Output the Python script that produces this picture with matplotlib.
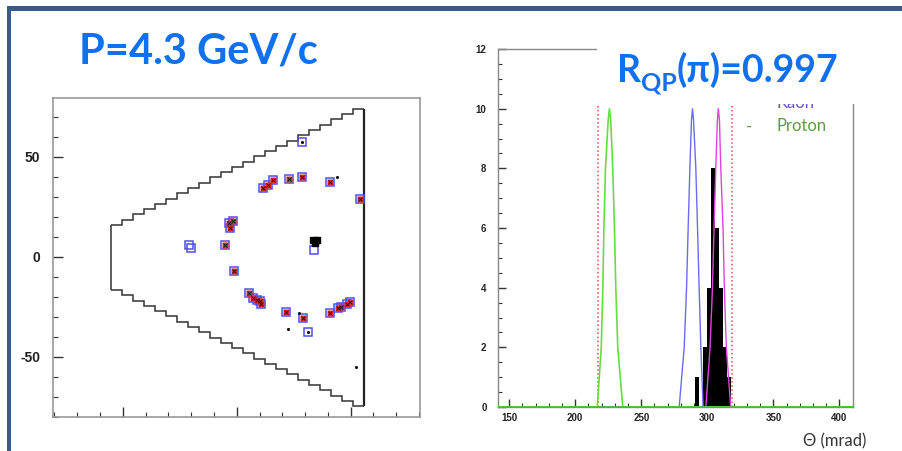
import numpy as np
import matplotlib.pyplot as plt
from matplotlib.patches import Rectangle
from matplotlib.ticker import MultipleLocator, FixedLocator

# ---- hit map on the detector plane ----
# matched hits (red with blue box)
hit_x = [11.7, 13.7, 16.1, 23.1, 28.5, 40.9, 54.1, -3.2, -1.5, -2.9, -5.0, -1.0,
         5.4, 7.3, 9.0, 10.5, 10.0, 21.8, 28.9, 40.9, 44.6, 45.6, 48.2, 49.7]
hit_y = [34.7, 36.0, 38.3, 39.0, 39.8, 37.7, 29.2, 17.2, 18.2, 14.3, 6.2, -7.0,
         -17.8, -20.3, -21.5, -23.5, -22.0, -27.5, -30.7, -28.2, -25.7, -25.0, -23.7, -22.3]
# expected photons without a hit (blue box only)
photon_x = [28.5, -20.9, -20.0, 33.9, 31.4]
photon_y = [57.3, 6.0, 4.6, 3.5, -37.7]
# noise / single pixels
noise_x = [43.9, 27.5, 22.6, 52.3, 28.5, 31.4]
noise_y = [39.8, -28.2, -36.0, -54.8, 57.3, -37.7]
# track impact
blob_x = [33.4, 35.0, 34.2]
blob_y = [8.4, 8.4, 7.2]

# stepped outline of the sensor plane (upper edge, lower edge is mirrored)
stair_x = [-55.0, -50.2, -45.4, -40.5, -35.7, -30.9, -26.1, -21.3, -16.4, -11.6, -6.8, -2.0,
           2.8, 7.7, 12.5, 17.3, 22.1, 26.9, 31.7, 36.6, 41.4, 46.2, 51.0, 55.8]
stair_y = [16.0, 18.6, 21.3, 23.9, 26.6, 29.2, 31.8, 34.5, 37.1, 39.8, 42.4, 45.0,
           47.7, 50.3, 52.9, 55.6, 58.2, 60.9, 63.5, 66.1, 68.8, 71.4, 74.0]

# ---- Cherenkov angle distribution ----
theta_edges = [290.8, 293.8, 296.8, 299.8, 302.8, 305.8, 308.8, 311.8, 314.8, 317.8]
theta_counts = [1, 0, 2, 4, 8, 6, 4, 2, 1]

peak_y = [0, 0, 2, 4, 6, 8, 9.6, 10, 9.6, 8, 6, 4, 2, 0, 0]
proton_x = [141, 216.7, 219.7, 220.9, 221.7, 222.9, 224.9, 225.9, 226.9, 228.4, 229.7, 230.7, 232.2, 236.0, 410]
kaon_x = [141, 278.7, 282.5, 284.3, 285.5, 286.8, 288.0, 288.8, 289.6, 291.3, 292.6, 293.8, 295.1, 296.8, 410]
pion_x = [141, 298.9, 302.1, 303.9, 305.1, 306.4, 307.6, 308.4, 309.2, 310.2, 311.9, 312.9, 314.4, 317.7, 410]
cut_lo = 217.1
cut_hi = 318.9

W, H = 903, 451
title_blue = '#1170ee'
text_fam = ['Lato', 'DejaVu Sans']

fig = plt.figure(figsize=(W / 100, H / 100), dpi=100)


def fx(px):
    return px / W


def fy(py):
    return 1 - py / H


# slide frame
fig.add_artist(Rectangle((fx(7), fy(10.5)), 1, 4 / H, transform=fig.transFigure,
                         color='#3b5a8c', lw=0, zorder=10))
fig.add_artist(Rectangle((fx(7), 0), 4 / W, fy(6.5), transform=fig.transFigure,
                         color='#3b5a8c', lw=0, zorder=10))

# ---------------- left: hit map ----------------
ax1 = fig.add_axes([fx(53), fy(417), 367 / W, 319 / H])
ax1.set_xlim(-80.6, 80.4)
ax1.set_ylim(-80, 79.5)

ax1.stairs(stair_y, stair_x, baseline=None, color='#333333', lw=1.1)
ax1.stairs([-v - 0.5 for v in stair_y], stair_x, baseline=None, color='#333333', lw=1.1)
ax1.vlines(stair_x[0], -stair_y[0] - 0.5, stair_y[0], color='#333333', lw=1.1)
ax1.vlines(stair_x[-1], -stair_y[-1] - 0.5, stair_y[-1], color='#222222', lw=1.6)

ax1.plot(photon_x, photon_y, 's', ms=6, mfc='none', mec='#5050f0', mew=1.1, ls='none')
ax1.plot(hit_x, hit_y, 's', ms=6, mfc='none', mec='#5050f0', mew=1.1, ls='none')
ax1.plot(hit_x, hit_y, 's', ms=3.8, mfc='#e62a2a', mec='none', ls='none')
ax1.plot(hit_x, hit_y, 'x', ms=2.8, color='#301010', mew=0.7, ls='none')
ax1.plot(noise_x, noise_y, '.', ms=2.5, color='#111111', ls='none')
ax1.plot(blob_x, blob_y, 's', ms=4.5, color='black', ls='none')

for s in ax1.spines.values():
    s.set_color('#999999')
    s.set_linewidth(1.2)
ax1.yaxis.set_major_locator(FixedLocator([-50, 0, 50]))
ax1.yaxis.set_minor_locator(MultipleLocator(10))
ax1.xaxis.set_major_locator(FixedLocator([-50, 0, 50]))
ax1.xaxis.set_minor_locator(MultipleLocator(10))
ax1.tick_params(which='both', direction='in', top=False, right=False, color='#333333')
ax1.tick_params(which='major', length=7, width=1.0)
ax1.tick_params(which='minor', length=3.5, width=0.8)
ax1.tick_params(axis='y', pad=9, labelsize=10, labelcolor='#222222')
ax1.tick_params(axis='x', labelbottom=False)
ax1.set_yticklabels(['-50', '0', '50'])
for lab in ax1.get_yticklabels():
    lab.set_family('Liberation Sans')
    lab.set_weight('bold')

# ---------------- right: Cherenkov angle ----------------
ax2 = fig.add_axes([fx(497.7), fy(407), 355.3 / W, 358 / H])
ax2.set_xlim(141.3, 410.3)
ax2.set_ylim(0, 12)

ax2.stairs(theta_counts, theta_edges, fill=True, color='black', zorder=2)
ax2.plot(pion_x, peak_y, color='#dd44dd', lw=1.0, zorder=3)
ax2.plot(kaon_x, peak_y, color='#6b6bee', lw=1.0, zorder=3)
ax2.plot(proton_x, peak_y, color='#66dd44', lw=1.2, zorder=4)
ax2.axhline(0, color='#5cb83c', lw=1.8, zorder=4)
ax2.axvline(cut_lo, color='#e05050', ls=':', lw=1.1, zorder=3)
ax2.axvline(cut_hi, color='#e05050', ls=':', lw=1.1, zorder=3)

for s in ax2.spines.values():
    s.set_color('#888888')
    s.set_linewidth(1.0)
ax2.xaxis.set_major_locator(MultipleLocator(50))
ax2.xaxis.set_minor_locator(MultipleLocator(10))
ax2.yaxis.set_major_locator(MultipleLocator(2))
ax2.yaxis.set_minor_locator(MultipleLocator(0.5))
ax2.tick_params(which='both', direction='in', top=False, right=False, color='#333333')
ax2.tick_params(which='major', length=6, width=1.0)
ax2.tick_params(which='minor', length=3, width=0.8)
ax2.tick_params(axis='y', pad=8, labelsize=7, labelcolor='#222222')
ax2.tick_params(axis='x', pad=4.5, labelsize=7, labelcolor='#222222')
for lab in ax2.get_xticklabels() + ax2.get_yticklabels():
    lab.set_family('Liberation Sans')
    lab.set_weight('bold')

fig.text(fx(803), fy(441), 'Θ (mrad)', family=text_fam, fontsize=12,
         color='#333333', va='center', ha='left')

# legend entries (top one sits under the label box)
fig.text(fx(746), fy(108), '-', family=text_fam, fontsize=12, color='#5050e0', zorder=5)
fig.text(fx(777), fy(108), 'Kaon', family=text_fam, fontsize=12, color='#6a52d0', zorder=5)
fig.text(fx(746), fy(131.5), '-', family=text_fam, fontsize=12, color='#5aa03a', zorder=5)
fig.text(fx(777), fy(131.5), 'Proton', family=text_fam, fontsize=12, color='#5aa03a', zorder=5)

fig.add_artist(Rectangle((fx(597), fy(103.5)), (W - 597) / W, 91.5 / H,
                         transform=fig.transFigure, color='white', lw=0, zorder=6))

# titles
fig.text(fx(79), fy(63), 'P=4.3 GeV/c', family=text_fam, fontsize=30, weight='bold',
         color=title_blue, va='baseline', zorder=7)

renderer = fig.canvas.get_renderer()
t_r = fig.text(fx(617), fy(82), 'R', family=text_fam, fontsize=27, weight='bold',
               color=title_blue, va='baseline', zorder=7)
x_next = t_r.get_window_extent(renderer).x1
t_qp = fig.text(x_next / W, fy(90), 'QP', family=text_fam, fontsize=18, weight='bold',
                color=title_blue, va='baseline', zorder=7)
x_next = t_qp.get_window_extent(renderer).x1
fig.text(x_next / W, fy(82), '(π)=0.997', family=text_fam, fontsize=27, weight='bold',
         color=title_blue, va='baseline', zorder=7)

fig.savefig('out.png', dpi=100)
